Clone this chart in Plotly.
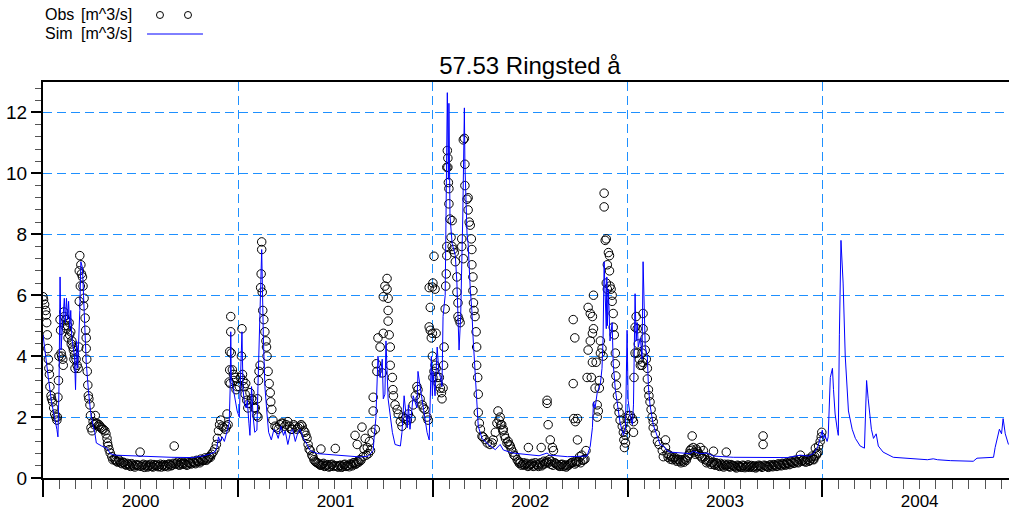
import pandas as pd
import plotly.graph_objects as go

START = pd.Timestamp("2000-01-01")
END_DAY = 1811  # last day shown on the time axis

# Observed discharge at station 57.53 Ringsted å: (days since 2000-01-01, m^3/s)
obs_2000 = [
    (0, 5.95), (1, 5.85), (3, 5.7), (5, 5.5), (6, 5.35), (7, 5.1), (8, 4.7), (9, 4.25), (10, 3.9),
    (11, 3.6), (12, 3.4), (13, 3.0), (15, 2.7), (16, 2.6), (18, 2.5), (20, 2.3), (22, 2.1), (24, 2.0),
    (26, 1.9), (27, 2.0), (28, 2.65), (29, 3.2), (30, 4.0),
    (32, 5.2), (33, 4.85), (34, 4.1), (35, 4.0), (37, 3.9), (38, 3.7), (39, 5.45), (40, 5.3), (41, 5.0),
    (43, 5.2), (44, 4.9), (46, 5.0), (47, 4.6), (49, 5.1), (50, 4.7), (52, 4.8), (53, 4.4), (54, 4.5),
    (56, 4.3), (57, 4.2), (58, 3.9), (59, 4.05), (60, 3.6),
    (62, 3.9), (64, 3.7), (66, 3.6), (67, 4.3), (68, 5.8), (68, 6.8), (69, 7.3), (70, 6.3), (71, 7.0),
    (72, 6.7), (74, 6.6), (75, 6.3), (76, 5.65), (77, 5.9), (79, 5.25), (80, 4.85), (81, 4.6), (81, 4.25),
    (82, 3.9), (83, 3.5), (84, 3.05), (85, 2.7), (86, 2.6), (88, 2.4), (89, 2.05), (90, 1.65), (92, 1.55),
    (94, 1.85), (96, 1.75), (98, 2.05), (99, 1.8), (101, 1.8), (103, 1.7), (105, 1.75), (107, 1.7),
    (109, 1.65), (111, 1.6), (113, 1.6), (116, 1.55), (118, 1.45), (120, 1.3), (121, 1.15), (122, 1.05),
    (124, 0.93), (126, 0.82), (129, 0.7), (131, 0.6),
    (134, 0.62), (138, 0.55), (142, 0.6), (146, 0.5), (150, 0.52), (154, 0.45), (158, 0.48), (162, 0.42),
    (166, 0.47), (170, 0.4), (174, 0.44), (178, 0.43), (182, 0.85), (184, 0.38), (188, 0.45), (192, 0.4),
    (196, 0.36), (200, 0.42), (204, 0.38), (208, 0.44), (212, 0.4), (216, 0.37), (220, 0.45), (224, 0.41),
    (228, 0.38), (232, 0.43), (236, 0.46), (240, 0.4), (244, 0.48), (246, 1.05), (248, 0.45), (252, 0.52),
    (256, 0.42), (260, 0.47), (264, 0.5), (268, 0.44), (272, 0.52), (276, 0.48), (280, 0.55), (284, 0.5),
    (288, 0.58), (292, 0.54), (296, 0.62), (300, 0.58), (304, 0.66), (308, 0.62), (312, 0.7), (316, 0.78),
    (319, 0.85), (322, 0.95), (325, 1.1), (327, 1.3), (329, 1.55), (331, 1.75), (333, 1.9), (336, 1.7),
    (339, 1.65), (342, 1.6), (344, 1.7), (345, 2.1), (347, 1.75), (349, 3.15), (350, 3.55), (350, 4.15),
    (351, 3.1), (352, 4.8), (352, 5.3), (353, 4.1), (355, 3.55), (357, 3.4), (358, 3.2), (360, 3.3),
    (362, 2.9), (364, 3.0),
]

obs_2001 = [
    (368, 3.0), (370, 3.3), (372, 4.0), (373, 4.9), (374, 3.4), (375, 3.2), (377, 3.0), (379, 2.75),
    (380, 3.1), (382, 2.55), (384, 2.3), (386, 2.45), (388, 2.8), (391, 2.6), (394, 2.55), (396, 2.3),
    (398, 2.3), (401, 2.05), (402, 2.6), (403, 2.0), (404, 3.2), (405, 3.5), (407, 3.7), (408, 6.25),
    (409, 6.7), (410, 7.5), (410, 7.75), (411, 6.1), (412, 5.5), (414, 5.2), (416, 4.8), (418, 4.5),
    (419, 4.3), (420, 4.0), (422, 3.5), (424, 3.1), (426, 2.8), (427, 2.5), (429, 2.25), (431, 1.9),
    (435, 1.7), (438, 1.65), (441, 1.6), (444, 1.75), (447, 1.8), (450, 1.8), (453, 1.7), (456, 1.75),
    (459, 1.85), (462, 1.7), (465, 1.6), (467, 1.6), (470, 1.75), (473, 1.7), (476, 1.6), (478, 1.65),
    (481, 1.7), (484, 1.75), (486, 1.7), (489, 1.55), (491, 1.5), (493, 1.4), (495, 1.3), (497, 1.1),
    (499, 0.95), (501, 0.9), (504, 0.75), (506, 0.7),
    (510, 0.55), (514, 0.5), (518, 0.45), (521, 0.95), (522, 0.42), (526, 0.48), (530, 0.4), (534, 0.44),
    (538, 0.38), (542, 0.45), (546, 0.41), (548, 0.97), (550, 0.4), (554, 0.36), (558, 0.42), (562, 0.38),
    (566, 0.45), (570, 0.4), (574, 0.37), (578, 0.44), (582, 0.5), (585, 1.4), (586, 0.45), (589, 1.1),
    (590, 0.55), (594, 0.6), (598, 1.67), (600, 0.7), (602, 0.95), (604, 1.3), (606, 0.75), (608, 1.0),
    (610, 0.8), (612, 1.2), (614, 0.9), (617, 1.5), (619, 2.65), (619, 2.2), (623, 1.6), (625, 3.75),
    (626, 3.5), (628, 4.6), (632, 4.3), (636, 3.45), (638, 4.75), (638, 5.95), (641, 6.3), (645, 6.55),
    (645, 6.2), (647, 5.9), (647, 5.5), (647, 5.15), (649, 4.7), (651, 4.3), (651, 3.7), (655, 3.3),
    (656, 2.9), (657, 2.7), (660, 2.4), (664, 2.25), (666, 2.1), (670, 1.85), (673, 1.7), (675, 2.0),
    (679, 1.95), (683, 1.9), (685, 2.1), (690, 1.95), (694, 2.4), (698, 2.7), (701, 3.0), (703, 2.9),
    (707, 2.6), (711, 2.4), (713, 2.3), (716, 2.25), (720, 2.0), (722, 1.9), (724, 6.25), (724, 4.96),
    (726, 5.6), (726, 4.85), (728, 4.6), (730, 4.75), (730, 6.27), (730, 4.0),
]

obs_2002 = [
    (731, 6.4), (733, 7.28), (735, 6.2), (737, 4.75), (731, 3.3), (733, 3.5), (735, 3.7), (737, 3.6),
    (739, 3.3), (741, 3.1), (743, 3.3), (745, 2.95), (747, 2.8), (748, 2.6), (750, 2.95), (751, 3.7),
    (752, 4.3), (754, 5.55), (755, 6.3), (756, 6.7), (757, 7.3), (757, 7.6), (757, 10.2), (758, 10.75),
    (759, 10.5), (759, 10.2), (760, 9.7), (761, 9.5), (761, 9.0), (763, 8.5), (765, 7.9), (767, 8.45),
    (767, 7.6), (769, 7.5), (771, 7.4), (773, 7.1), (776, 6.6), (776, 6.1), (778, 5.75), (778, 5.3),
    (780, 5.2), (782, 5.1), (785, 7.85), (785, 7.6), (788, 7.2), (788, 11.1), (790, 11.15), (791, 10.3),
    (791, 9.6), (795, 9.15), (797, 8.8), (797, 9.2), (799, 8.4), (801, 8.3), (803, 7.85), (804, 7.5),
    (804, 7.0), (806, 6.6), (806, 6.15), (807, 5.75), (808, 5.5), (810, 5.3), (812, 4.8), (813, 4.3),
    (813, 3.7), (815, 3.3), (816, 2.75), (816, 2.15), (818, 1.8), (820, 1.6), (823, 1.37), (825, 1.35),
    (829, 1.26), (833, 1.15), (838, 1.1), (842, 1.15), (844, 1.25), (848, 1.5), (851, 1.8), (853, 2.2),
    (855, 1.9), (857, 2.0), (858, 1.75), (860, 1.75), (862, 1.55), (863, 1.6), (865, 1.4), (867, 1.3),
    (870, 1.15), (872, 1.2), (874, 1.1), (876, 1.05), (878, 0.95), (881, 0.85), (883, 0.75), (885, 0.72),
    (889, 0.6), (891, 0.55),
    (895, 0.5), (899, 0.45), (903, 0.42), (907, 0.48), (910, 1.0), (911, 0.4), (915, 0.45), (919, 0.38),
    (923, 0.5), (927, 0.42), (931, 0.46), (934, 1.0), (935, 0.4), (939, 0.55), (943, 0.5), (945, 2.55),
    (945, 2.45), (947, 1.75), (949, 0.6), (951, 1.25), (953, 0.55), (955, 1.0), (957, 0.9), (959, 0.5),
    (963, 0.45), (967, 0.4), (971, 0.44), (975, 0.38), (979, 0.43), (983, 0.4), (987, 0.45), (991, 0.5),
    (994, 3.1), (994, 5.2), (995, 1.95), (997, 4.6), (998, 1.85), (999, 0.55), (1002, 1.95), (1002, 1.25),
    (1006, 0.7), (1010, 0.75), (1014, 0.6), (1018, 0.9),
    (1020, 3.3), (1022, 5.6), (1022, 4.2), (1026, 5.4), (1026, 4.5), (1028, 3.3), (1030, 5.3), (1030, 4.75),
    (1030, 3.8), (1032, 6.0), (1032, 4.9), (1035, 2.95), (1037, 3.8), (1039, 2.4), (1039, 2.0), (1041, 2.2),
    (1043, 3.2), (1043, 2.95), (1045, 4.1), (1045, 4.5), (1048, 4.25), (1050, 4.0), (1052, 9.35),
    (1052, 8.9), (1054, 7.8), (1056, 7.85), (1056, 6.4), (1058, 7.0), (1058, 6.2), (1060, 7.4), (1062, 7.3),
    (1062, 6.8), (1063, 6.3), (1065, 6.2), (1067, 6.0), (1067, 5.8), (1069, 5.4), (1069, 4.95), (1071, 4.7),
    (1073, 4.1), (1073, 3.75), (1074, 3.35), (1075, 3.05), (1077, 2.7), (1078, 2.35), (1080, 2.15),
    (1082, 1.9), (1086, 1.7), (1088, 1.5), (1089, 1.25), (1090, 1.0), (1092, 1.15), (1092, 1.4),
    (1093, 1.6), (1095, 1.95),
]

obs_2003 = [
    (1097, 2.05), (1101, 2.05), (1105, 1.95), (1107, 1.85), (1107, 1.5), (1108, 3.3), (1110, 4.1),
    (1110, 4.95), (1112, 5.3), (1114, 4.9), (1114, 4.1), (1116, 4.4), (1118, 3.9), (1120, 3.7), (1123, 3.7),
    (1123, 4.1), (1124, 3.8), (1125, 5.4), (1125, 4.9), (1129, 4.6), (1129, 4.2), (1131, 3.9), (1133, 3.6),
    (1133, 3.25), (1135, 2.9), (1136, 2.7), (1138, 2.5), (1140, 2.25), (1142, 2.0), (1144, 1.85),
    (1144, 1.65), (1148, 1.45), (1152, 1.2), (1155, 1.1), (1161, 0.9), (1163, 0.7), (1167, 1.0),
    (1167, 1.25), (1170, 0.8),
    (1174, 0.75), (1178, 0.7), (1182, 0.65), (1186, 0.6), (1190, 0.62), (1194, 0.55), (1198, 0.6),
    (1202, 0.52), (1206, 0.58), (1210, 0.75), (1213, 0.9), (1217, 1.38), (1219, 1.0), (1221, 0.85),
    (1225, 0.95), (1229, 0.8), (1232, 1.0), (1234, 0.7), (1238, 0.9), (1242, 0.6), (1246, 0.55),
    (1250, 0.65), (1254, 0.5), (1257, 0.88), (1258, 0.45), (1262, 0.5), (1266, 0.42), (1270, 0.48),
    (1274, 0.4), (1278, 0.45), (1281, 0.85), (1282, 0.42), (1286, 0.38), (1290, 0.44), (1294, 0.4),
    (1298, 0.36), (1302, 0.42), (1306, 0.38), (1310, 0.35), (1314, 0.4), (1318, 0.37), (1322, 0.43),
    (1326, 0.38), (1330, 0.35), (1334, 0.4), (1338, 0.36), (1342, 0.42), (1346, 0.38), (1350, 1.38),
    (1350, 1.1), (1354, 0.4), (1358, 0.37), (1362, 0.42), (1366, 0.39), (1370, 0.44), (1374, 0.4),
    (1378, 0.46), (1382, 0.42), (1386, 0.48), (1390, 0.44), (1394, 0.5), (1398, 0.46), (1402, 0.55),
    (1406, 0.5), (1410, 0.58), (1414, 0.52), (1418, 0.6), (1420, 0.75), (1422, 0.55), (1426, 0.6),
    (1430, 0.52), (1434, 0.62), (1438, 0.58), (1442, 0.72), (1445, 0.6), (1448, 0.98), (1451, 0.8),
    (1454, 1.05), (1457, 1.2), (1459, 1.35), (1460, 1.5),
]

# Extra low-flow readings between the ones above (summer base flow)
obs_lowflow_2000 = [
    (136, 0.58), (140, 0.52), (144, 0.55), (148, 0.47), (152, 0.5), (156, 0.42), (160, 0.45), (164, 0.38),
    (168, 0.43), (172, 0.36), (176, 0.41), (180, 0.4), (186, 0.42), (190, 0.35), (194, 0.43), (198, 0.39),
    (202, 0.45), (206, 0.36), (210, 0.41), (214, 0.43), (218, 0.39), (222, 0.36), (226, 0.44), (230, 0.4),
    (234, 0.37), (238, 0.44), (242, 0.42), (250, 0.48), (254, 0.44), (258, 0.5), (262, 0.45), (266, 0.47),
    (270, 0.42), (274, 0.5), (278, 0.46), (282, 0.52), (286, 0.47), (290, 0.55), (294, 0.5), (298, 0.56),
    (302, 0.6), (306, 0.58), (310, 0.65), (314, 0.68),
]
obs_lowflow_2001 = [
    (508, 0.6), (512, 0.52), (516, 0.48), (520, 0.42), (524, 0.45), (528, 0.38), (532, 0.42), (536, 0.36),
    (540, 0.43), (544, 0.38), (552, 0.37), (556, 0.41), (560, 0.35), (564, 0.43), (568, 0.38), (572, 0.42),
    (576, 0.46), (580, 0.4), (584, 0.5), (588, 0.48), (592, 0.52), (596, 0.58),
]
obs_lowflow_2002 = [
    (893, 0.48), (897, 0.42), (901, 0.5), (905, 0.45), (909, 0.38), (913, 0.43), (917, 0.48), (921, 0.4),
    (925, 0.45), (929, 0.38), (933, 0.5), (937, 0.44), (941, 0.47), (944, 0.55), (948, 0.5), (952, 0.45),
    (956, 0.42), (961, 0.48), (965, 0.42), (969, 0.38), (973, 0.45), (977, 0.4), (981, 0.36), (985, 0.42),
    (989, 0.48), (993, 0.52), (997, 0.46), (1000, 0.5), (1004, 0.55), (1008, 0.5), (1012, 0.58),
    (1016, 0.62),
]
obs_lowflow_2003 = [
    (1172, 0.68), (1176, 0.62), (1180, 0.6), (1184, 0.68), (1188, 0.55), (1192, 0.6), (1196, 0.5),
    (1200, 0.56), (1204, 0.62), (1208, 0.68), (1212, 0.8), (1215, 0.95), (1223, 0.78), (1227, 0.88),
    (1231, 0.75), (1236, 0.65), (1240, 0.7), (1244, 0.5), (1248, 0.58), (1252, 0.45), (1256, 0.52),
    (1260, 0.42), (1264, 0.47), (1268, 0.38), (1272, 0.44), (1276, 0.36), (1280, 0.4), (1284, 0.45),
    (1288, 0.36), (1292, 0.41), (1296, 0.38), (1300, 0.33), (1304, 0.4), (1308, 0.36), (1312, 0.42),
    (1316, 0.34), (1320, 0.39), (1324, 0.35), (1328, 0.41), (1332, 0.37), (1336, 0.33), (1340, 0.38),
    (1344, 0.4), (1348, 0.35), (1352, 0.42), (1356, 0.38), (1360, 0.35), (1364, 0.43), (1368, 0.37),
    (1372, 0.42), (1376, 0.38), (1380, 0.45), (1384, 0.4), (1388, 0.46), (1392, 0.42), (1396, 0.48),
    (1400, 0.44), (1404, 0.52), (1408, 0.48), (1412, 0.55), (1416, 0.5), (1424, 0.58), (1428, 0.55),
    (1432, 0.6), (1436, 0.55), (1440, 0.65), (1444, 0.62), (1447, 0.7), (1450, 0.75), (1453, 0.85),
]

# Simulated discharge: (days since 2000-01-01, m^3/s)
sim_2000 = [
    (0, 4.7), (4, 4.2), (10, 3.3), (16, 2.5), (22, 2.0), (26, 1.6), (28, 1.35), (30, 3.0), (32, 6.6),
    (34, 4.2), (36, 4.9), (38, 5.4), (40, 5.9), (42, 5.1), (44, 5.9), (46, 5.2), (48, 5.8), (50, 4.9),
    (52, 5.5), (54, 4.6), (57, 4.3), (59, 4.0), (61, 2.9), (63, 4.5), (65, 3.6), (67, 4.4), (69, 5.5),
    (71, 7.1), (74, 6.9), (76, 6.0), (78, 5.0), (81, 3.8), (85, 2.9), (89, 2.2), (93, 1.8), (97, 1.5),
    (100, 1.15), (110, 1.05), (120, 0.98), (126, 0.8), (135, 0.75), (160, 0.73), (200, 0.71), (240, 0.68),
    (280, 0.67), (300, 0.72), (312, 0.78), (322, 0.85), (326, 1.0), (329, 1.35), (332, 1.2), (336, 1.35),
    (340, 1.2), (345, 1.57), (349, 1.8), (351, 3.0), (352, 4.8), (353, 3.3), (356, 3.0), (360, 2.5),
    (364, 2.2),
]

sim_2001 = [
    (368, 2.0), (371, 3.5), (373, 4.8), (375, 2.9), (378, 2.4), (381, 2.3), (383, 2.55), (386, 1.8),
    (388, 1.4), (391, 3.0), (394, 2.0), (397, 1.5), (401, 1.57), (403, 3.0), (405, 4.6), (410, 7.5),
    (413, 4.7), (416, 3.0), (420, 2.1), (423, 1.5), (428, 1.25), (433, 1.6), (437, 1.5), (441, 1.3),
    (446, 1.7), (451, 1.4), (454, 1.55), (459, 1.1), (464, 1.5), (468, 1.6), (473, 1.2), (478, 1.5),
    (482, 1.6), (488, 1.3), (495, 1.1), (501, 0.9), (515, 0.8), (550, 0.75), (595, 0.69), (610, 0.72),
    (614, 0.8), (619, 0.9), (621, 1.4), (624, 1.95), (628, 4.0), (632, 3.3), (636, 3.9), (638, 2.6),
    (641, 2.75), (643, 4.5), (647, 2.6), (655, 1.5), (660, 1.1), (670, 1.05), (673, 1.5), (677, 2.7),
    (683, 1.65), (685, 2.4), (688, 1.6), (694, 2.7), (701, 2.3), (703, 3.5), (707, 3.0), (713, 2.3),
    (720, 1.5), (724, 1.25), (728, 4.0), (730, 2.7),
]

sim_2002 = [
    (731, 3.5), (735, 2.7), (739, 4.3), (742, 3.5), (745, 3.3), (748, 3.0), (750, 5.3), (754, 6.0),
    (756, 9.8), (758, 12.65), (760, 9.8), (761, 12.3), (763, 8.6), (767, 7.7), (773, 7.3), (776, 6.4),
    (778, 5.3), (780, 4.2), (783, 5.3), (785, 6.8), (787, 8.6), (790, 12.15), (791, 10.3), (795, 8.0),
    (797, 7.7), (801, 6.2), (804, 5.5), (806, 4.7), (810, 3.7), (813, 2.6), (816, 1.7), (823, 1.3),
    (835, 1.1), (848, 0.93), (857, 1.1), (863, 0.92), (880, 0.82), (900, 0.78), (930, 0.73), (945, 0.82),
    (950, 0.75), (983, 0.7), (1020, 0.72), (1026, 1.05), (1030, 1.65), (1032, 2.5), (1035, 2.3),
    (1039, 2.8), (1045, 3.1), (1048, 3.6), (1050, 4.6), (1052, 7.1), (1056, 4.9), (1057, 6.6), (1058, 5.0),
    (1060, 6.2), (1063, 4.5), (1067, 5.1), (1069, 3.75), (1073, 2.9), (1077, 2.4), (1082, 1.8),
    (1088, 1.4), (1092, 1.6), (1095, 4.85),
]

sim_2003 = [
    (1097, 2.55), (1101, 2.0), (1105, 1.75), (1107, 2.4), (1110, 6.05), (1112, 4.5), (1114, 5.1),
    (1116, 4.3), (1120, 4.6), (1123, 3.9), (1125, 7.1), (1129, 4.3), (1133, 4.0), (1135, 3.0), (1138, 2.4),
    (1144, 1.75), (1152, 1.3), (1157, 1.1), (1163, 1.05), (1170, 0.9), (1176, 0.85), (1200, 0.82),
    (1213, 0.8), (1219, 0.88), (1232, 0.8), (1245, 0.82), (1257, 0.72), (1294, 0.68), (1358, 0.67),
    (1395, 0.67), (1420, 0.75), (1435, 0.72), (1444, 0.8), (1452, 1.0), (1457, 1.3),
]

sim_2004 = [
    (1461, 1.57), (1463, 1.3), (1466, 1.4), (1470, 1.2), (1472, 1.35), (1476, 3.3), (1480, 3.6),
    (1482, 2.9), (1485, 2.1), (1489, 1.6), (1491, 1.4), (1493, 4.7), (1496, 7.8), (1500, 6.4), (1504, 4.0),
    (1510, 2.2), (1517, 1.6), (1523, 1.3), (1532, 1.05), (1540, 0.98), (1544, 3.2), (1547, 2.6),
    (1553, 1.6), (1557, 1.3), (1562, 1.45), (1566, 1.05), (1575, 0.85), (1594, 0.68), (1626, 0.64),
    (1658, 0.6), (1669, 0.63), (1677, 0.6), (1701, 0.57), (1744, 0.55), (1751, 0.65), (1782, 0.68),
    (1785, 1.0), (1789, 1.3), (1793, 1.6), (1797, 1.45), (1800, 1.95), (1804, 1.45), (1810, 1.1),
]


def to_xy(blocks, ordered=False):
    pairs = [p for block in blocks for p in block]
    if ordered:
        pairs = sorted(pairs, key=lambda p: p[0])
    x = [START + pd.Timedelta(days=d) for d, _ in pairs]
    y = [v for _, v in pairs]
    return x, y


obs_x, obs_y = to_xy([obs_2000, obs_lowflow_2000, obs_2001, obs_lowflow_2001,
                      obs_2002, obs_lowflow_2002, obs_2003, obs_lowflow_2003])
sim_x, sim_y = to_xy([sim_2000, sim_2001, sim_2002, sim_2003, sim_2004], ordered=True)

FONT = "Liberation Sans, Arial, sans-serif"
GRID = "#1e90ff"

fig = go.Figure()
fig.add_trace(go.Scatter(
    x=obs_x, y=obs_y, mode="markers", name="Obs [m^3/s]",
    marker=dict(symbol="circle-open", size=8.5, color="black", line=dict(width=1, color="black")),
))
fig.add_trace(go.Scatter(
    x=sim_x, y=sim_y, mode="lines", name="Sim [m^3/s]",
    line=dict(color="#0000ff", width=1),
))

fig.update_layout(
    width=1009, height=517,
    margin=dict(l=43, r=0, t=82, b=39, autoexpand=False),
    paper_bgcolor="white", plot_bgcolor="white",
    showlegend=False,
    font=dict(family=FONT, color="black"),
    title=dict(text="57.53 Ringsted å", font=dict(family=FONT, size=24, color="black"),
               x=0.504, xref="paper", xanchor="center", y=1 - 66 / 517, yref="container", yanchor="middle"),
    xaxis=dict(
        type="date", range=[START, START + pd.Timedelta(days=END_DAY)], automargin=False,
        showline=True, linecolor="black", linewidth=2, mirror=True, zeroline=False,
        ticks="outside", ticklen=17, tickwidth=1.5, tickcolor="black",
        dtick="M12", tick0="2000-01-01", tickformat="%Y", ticklabelmode="period",
        ticklabelstandoff=-10,
        tickfont=dict(size=17, color="black"),
        showgrid=True, gridcolor=GRID, gridwidth=1, griddash="9px,5px",
        minor=dict(dtick="M1", tick0="2000-01-01", ticks="outside", ticklen=9, tickwidth=1.2,
                   tickcolor="#555555", showgrid=False),
    ),
    yaxis=dict(
        range=[0, 13], dtick=2, tick0=0, automargin=False,
        showline=True, linecolor="black", linewidth=2, zeroline=False,
        ticks="outside", ticklen=10, tickwidth=1.5, tickcolor="black",
        tickfont=dict(size=19, color="black"),
        showgrid=True, gridcolor=GRID, gridwidth=1, griddash="9px,5px",
        minor=dict(dtick=0.4, tick0=0, ticks="outside", ticklen=6, tickwidth=1.2,
                   tickcolor="#555555", showgrid=False),
    ),
)

# Legend block drawn above the plot: label text on the left, glyph on the right
legend_font = dict(family=FONT, size=16, color="black")
rows = [("Obs", 1.1692), ("Sim", 1.1237)]
for label, ypos in rows:
    fig.add_annotation(text=label, x=0.0, y=ypos, xref="paper", yref="paper",
                       xanchor="left", yanchor="middle", showarrow=False, font=legend_font)
    fig.add_annotation(text="[m^3/s]", x=0.0373, y=ypos, xref="paper", yref="paper",
                       xanchor="left", yanchor="middle", showarrow=False, font=legend_font)

for cx in (0.1211, 0.1501):
    fig.add_shape(type="circle", xref="paper", yref="paper", xsizemode="pixel", ysizemode="pixel",
                  xanchor=cx, yanchor=1.1692, x0=-3.5, x1=3.5, y0=-3.5, y1=3.5,
                  line=dict(color="black", width=1))
fig.add_shape(type="line", xref="paper", yref="paper", x0=0.1077, x1=0.1656, y0=1.1212, y1=1.1212,
              line=dict(color="#0000ff", width=1))

fig.write_html("out.html")
